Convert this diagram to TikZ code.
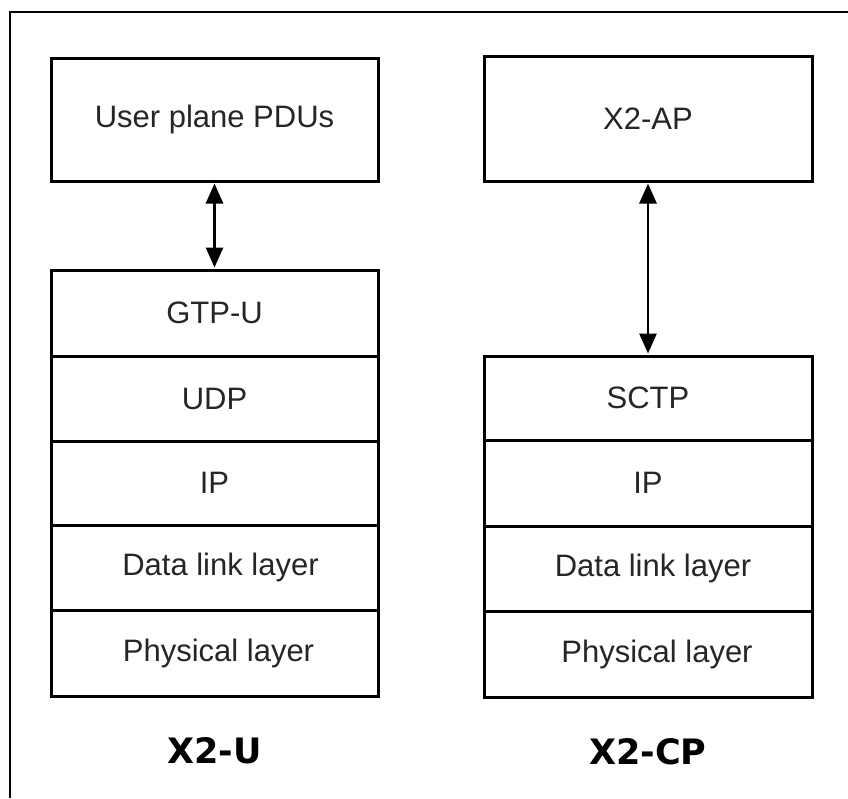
\documentclass[tikz,border=0pt]{standalone}
\usepackage{fontspec}
\setmainfont{Liberation Sans}
\newfontfamily\capfont{DejaVu Sans}
\usetikzlibrary{arrows.meta}
\begin{document}
\begin{tikzpicture}[x=1pt,y=-1pt,
  layer/.style={draw=black,line width=3pt,minimum width=327pt,inner sep=0pt,
    font=\fontsize{31}{34}\selectfont,text=black!85},
  biarrow/.style={line width=2.8pt,{Triangle[length=20pt,width=17pt]}-{Triangle[length=20pt,width=17pt]},shorten <=1pt,shorten >=1pt},
  caption/.style={font=\capfont\bfseries\fontsize{35}{38}\selectfont}]
\useasboundingbox (0,0) rectangle (848,798);
\fill[white] (0,0) rectangle (848,798);
% outer frame (top and left edges)
\coordinate (ftr) at (848,12);
\coordinate (ftl) at (10,12);
\coordinate (fbl) at (10,798);
\draw[line width=1.2pt] (ftr) -- (ftl) -- (fbl);
% left stack X2-U
\node[layer,minimum height=123pt] (updu) at (214.5,119.5) {\raisebox{-2pt}{User plane PDUs}};
\node[layer,minimum height=86pt] (gtpu) at (214.5,313) {GTP-U};
\node[layer,minimum height=85pt] (udp) at (214.5,398.5) {UDP};
\node[layer,minimum height=84pt] (ipl) at (214.5,483) {IP};
\node[layer,minimum height=85pt] (dll) at (214.5,567.5) {\hspace*{12pt}Data link layer};
\node[layer,minimum height=86pt] (phl) at (214.5,653) {\hspace*{8pt}Physical layer};
% right stack X2-CP
\node[layer,minimum height=125pt,minimum width=328pt] (xap) at (648,118.5) {\raisebox{-2pt}{X2-AP}};
\node[layer,minimum height=84pt,minimum width=328pt] (sctp) at (648,398) {SCTP};
\node[layer,minimum height=86pt,minimum width=328pt] (ipr) at (648,483) {IP};
\node[layer,minimum height=85pt,minimum width=328pt] (dlr) at (648,568.5) {\hspace*{10pt}Data link layer};
\node[layer,minimum height=86pt,minimum width=328pt] (phr) at (648,654) {\hspace*{18pt}Physical layer};
% arrows
\draw[biarrow] (updu.south) -- (gtpu.north);
\draw[biarrow] (xap.south) -- (sctp.north);
% captions
\node[caption] (capu) at (214.5,751) {X2-U};
\node[caption] (capcp) at (648,752) {X2-CP};
\end{tikzpicture}
\end{document}
